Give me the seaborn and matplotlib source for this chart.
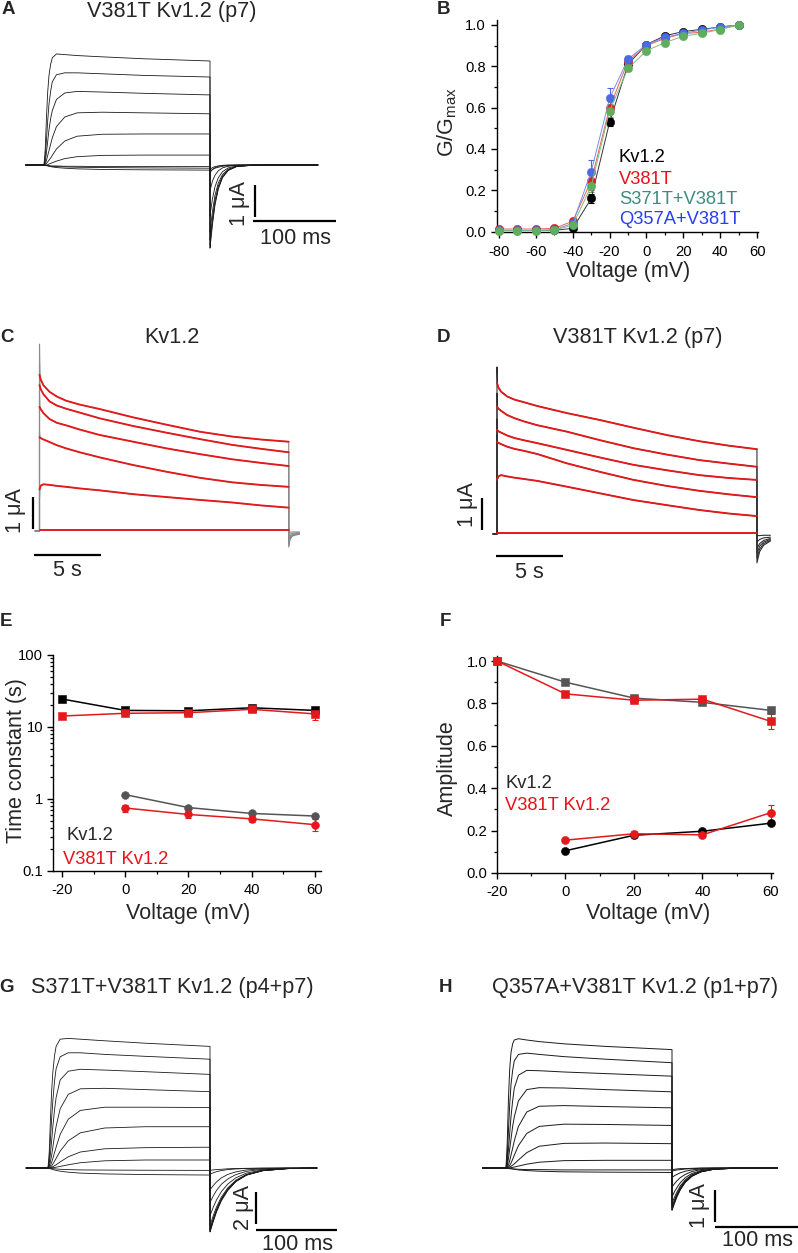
import numpy as np
import pandas as pd
import matplotlib
matplotlib.use("Agg")
import matplotlib.pyplot as plt
import seaborn as sns
from matplotlib.ticker import MultipleLocator, FixedLocator, FixedFormatter, LogLocator, NullFormatter

# ======================= DATA =======================
# --- B: G/Gmax vs voltage ---
B_voltage = [-80, -70, -60, -50, -40, -30, -20, -10, 0, 10, 20, 30, 40, 50]
B_kv12 = [0.005, 0.005, 0.005, 0.006, 0.015, 0.16, 0.53, 0.81, 0.905, 0.948, 0.968, 0.979, 0.99, 1.0]
B_kv12_err = [0.003, 0.003, 0.003, 0.003, 0.005, 0.02, 0.02, 0.01, 0.01, 0.005, 0.005, 0.005, 0.004, 0.0]
B_v381t = [0.012, 0.012, 0.012, 0.015, 0.05, 0.245, 0.60, 0.825, 0.90, 0.935, 0.958, 0.965, 0.98, 1.0]
B_v381t_err = [0.004, 0.004, 0.004, 0.004, 0.01, 0.045, 0.03, 0.015, 0.01, 0.008, 0.006, 0.005, 0.004, 0.0]
B_s371t = [0.004, 0.004, 0.004, 0.008, 0.03, 0.22, 0.585, 0.79, 0.875, 0.915, 0.945, 0.96, 0.978, 1.0]
B_s371t_err = [0.003, 0.003, 0.003, 0.003, 0.008, 0.03, 0.03, 0.015, 0.01, 0.008, 0.006, 0.005, 0.004, 0.0]
B_q357a = [0.005, 0.005, 0.005, 0.008, 0.04, 0.29, 0.645, 0.835, 0.905, 0.94, 0.96, 0.975, 0.99, 1.0]
B_q357a_err = [0.003, 0.003, 0.003, 0.003, 0.01, 0.055, 0.05, 0.015, 0.01, 0.008, 0.006, 0.005, 0.004, 0.0]
B_series_names = ["Kv1.2", "V381T", "S371T+V381T", "Q357A+V381T"]

# --- E: time constants ---
E_voltage_slow = [-20, 0, 20, 40, 60]
E_voltage_fast = [0, 20, 40, 60]
E_tau_slow_kv = [24.5, 17.0, 16.8, 18.5, 17.0]
E_tau_slow_kv_err = [2.0, 1.2, 1.2, 1.5, 1.8]
E_tau_slow_v = [14.2, 15.5, 15.8, 17.6, 15.2]
E_tau_slow_v_err = [1.0, 1.2, 1.2, 1.5, 2.8]
E_tau_fast_kv = [1.15, 0.76, 0.63, 0.58]
E_tau_fast_kv_err = [0.06, 0.04, 0.04, 0.04]
E_tau_fast_v = [0.75, 0.61, 0.53, 0.44]
E_tau_fast_v_err = [0.08, 0.06, 0.05, 0.08]

# --- F: amplitudes ---
F_voltage_slow = [-20, 0, 20, 40, 60]
F_voltage_fast = [0, 20, 40, 60]
F_amp_slow_kv = [1.0, 0.9, 0.825, 0.805, 0.767]
F_amp_slow_kv_err = [0.0, 0.008, 0.008, 0.008, 0.01]
F_amp_slow_v = [1.0, 0.845, 0.815, 0.82, 0.715]
F_amp_slow_v_err = [0.0, 0.01, 0.012, 0.012, 0.035]
F_amp_fast_kv = [0.105, 0.178, 0.197, 0.235]
F_amp_fast_kv_err = [0.008, 0.008, 0.008, 0.01]
F_amp_fast_v = [0.155, 0.185, 0.18, 0.285]
F_amp_fast_v_err = [0.01, 0.012, 0.012, 0.035]

# --- A / G / H: 200 ms voltage-step current families (uA) ---
STEP_MS = 200
A_on_t = [0, 1.5, 3, 4.5, 6, 8, 10, 15, 25, 40, 70, 120, 200]
A_on_I = [
    [0, 0.5, 1.5, 2.3, 2.8, 3.15, 3.35, 3.47, 3.45, 3.42, 3.38, 3.32, 3.25],
    [0, 0.25, 0.8, 1.4, 1.9, 2.3, 2.6, 2.82, 2.88, 2.88, 2.85, 2.8, 2.75],
    [0, 0.1, 0.4, 0.75, 1.1, 1.45, 1.7, 2.05, 2.25, 2.3, 2.28, 2.24, 2.19],
    [0, 0.04, 0.15, 0.3, 0.45, 0.65, 0.85, 1.2, 1.5, 1.63, 1.65, 1.63, 1.6],
    [0, 0.01, 0.05, 0.1, 0.15, 0.22, 0.3, 0.5, 0.75, 0.9, 0.96, 0.97, 0.97],
    [0, 0.0, 0.0, 0.01, 0.03, 0.05, 0.07, 0.12, 0.2, 0.26, 0.3, 0.31, 0.31],
    [0, -0.01, -0.01, -0.02, -0.02, -0.03, -0.03, -0.03, -0.04, -0.04, -0.05, -0.05, -0.05],
    [0, -0.01, -0.02, -0.02, -0.03, -0.04, -0.04, -0.05, -0.06, -0.07, -0.08, -0.09, -0.1],
    [0, -0.01, -0.02, -0.03, -0.04, -0.05, -0.06, -0.08, -0.1, -0.12, -0.14, -0.15, -0.16],
]
A_tail_t = [0, 1, 3, 6, 10, 15, 22, 32, 50, 80, 130]
A_tail_I = [
    [-2.6, -2.35, -1.85, -1.25, -0.75, -0.4, -0.17, -0.05, -0.01, 0, 0],
    [-2.5, -2.25, -1.78, -1.2, -0.72, -0.38, -0.16, -0.05, -0.01, 0, 0],
    [-2.35, -2.1, -1.65, -1.1, -0.66, -0.35, -0.15, -0.04, -0.01, 0, 0],
    [-2.1, -1.85, -1.45, -0.95, -0.56, -0.3, -0.13, -0.04, -0.01, 0, 0],
    [-1.6, -1.4, -1.05, -0.68, -0.4, -0.21, -0.09, -0.03, 0, 0, 0],
    [-0.8, -0.7, -0.5, -0.32, -0.18, -0.09, -0.04, -0.01, 0, 0, 0],
    [-0.25, -0.2, -0.14, -0.08, -0.04, -0.02, -0.01, 0, 0, 0, 0],
    [-0.15, -0.12, -0.08, -0.05, -0.03, -0.01, 0, 0, 0, 0, 0],
    [-0.2, -0.18, -0.14, -0.1, -0.07, -0.04, -0.02, -0.01, 0, 0, 0],
]

G_on_t = [0, 1.5, 3, 4.5, 6, 8, 10, 15, 25, 40, 70, 120, 200]
G_on_I = [
    [0, 1.0, 3.0, 4.8, 6.0, 7.0, 7.6, 8.05, 8.1, 8.05, 7.95, 7.8, 7.6],
    [0, 0.5, 1.8, 3.1, 4.2, 5.4, 6.2, 6.95, 7.2, 7.2, 7.1, 6.98, 6.8],
    [0, 0.25, 0.9, 1.7, 2.6, 3.6, 4.4, 5.5, 6.05, 6.17, 6.12, 6.02, 5.85],
    [0, 0.1, 0.4, 0.8, 1.3, 2.0, 2.6, 3.7, 4.6, 4.95, 4.98, 4.9, 4.77],
    [0, 0.03, 0.15, 0.35, 0.6, 0.95, 1.3, 2.1, 3.05, 3.6, 3.8, 3.8, 3.78],
    [0, 0.01, 0.05, 0.13, 0.25, 0.42, 0.6, 1.05, 1.7, 2.2, 2.5, 2.58, 2.58],
    [0, 0.0, 0.02, 0.04, 0.08, 0.14, 0.2, 0.38, 0.7, 1.0, 1.2, 1.27, 1.3],
    [0, 0.0, 0.0, 0.01, 0.02, 0.03, 0.05, 0.1, 0.2, 0.33, 0.45, 0.5, 0.5],
    [0, -0.01, -0.02, -0.03, -0.04, -0.05, -0.06, -0.08, -0.1, -0.12, -0.13, -0.14, -0.15],
    [0, -0.02, -0.05, -0.07, -0.1, -0.12, -0.15, -0.2, -0.26, -0.32, -0.37, -0.41, -0.44],
]
G_tail_t = [0, 1, 4, 8, 14, 22, 32, 45, 65, 95, 132]
G_tail_I = [
    [-4.0, -3.85, -3.35, -2.75, -2.05, -1.4, -0.85, -0.45, -0.17, -0.04, 0],
    [-3.95, -3.8, -3.3, -2.7, -2.0, -1.37, -0.83, -0.44, -0.17, -0.04, 0],
    [-3.9, -3.75, -3.25, -2.66, -1.98, -1.35, -0.82, -0.43, -0.16, -0.04, 0],
    [-3.8, -3.65, -3.15, -2.58, -1.92, -1.3, -0.8, -0.42, -0.16, -0.04, 0],
    [-3.6, -3.45, -2.98, -2.44, -1.82, -1.24, -0.76, -0.4, -0.15, -0.04, 0],
    [-3.0, -2.85, -2.45, -2.0, -1.48, -1.0, -0.61, -0.32, -0.12, -0.03, 0],
    [-2.2, -2.05, -1.75, -1.4, -1.02, -0.68, -0.41, -0.21, -0.08, -0.02, 0],
    [-1.4, -1.3, -1.1, -0.87, -0.62, -0.4, -0.24, -0.12, -0.05, -0.01, 0],
    [-0.4, -0.37, -0.3, -0.23, -0.16, -0.1, -0.06, -0.03, -0.01, 0, 0],
    [-0.15, -0.14, -0.12, -0.1, -0.08, -0.05, -0.03, -0.02, -0.01, 0, 0],
]

H_on_t = [0, 1.5, 3, 4.5, 6, 8, 10, 15, 25, 40, 70, 120, 200]
H_on_I = [
    [0, 0.8, 2.2, 3.1, 3.6, 3.88, 4.0, 4.04, 4.0, 3.95, 3.88, 3.8, 3.7],
    [0, 0.35, 1.2, 2.0, 2.6, 3.05, 3.35, 3.55, 3.59, 3.55, 3.48, 3.4, 3.29],
    [0, 0.15, 0.6, 1.1, 1.6, 2.1, 2.5, 2.9, 3.05, 3.04, 3.0, 2.95, 2.87],
    [0, 0.07, 0.3, 0.6, 0.9, 1.3, 1.6, 2.1, 2.45, 2.51, 2.5, 2.45, 2.38],
    [0, 0.02, 0.1, 0.23, 0.4, 0.62, 0.85, 1.3, 1.75, 1.93, 1.95, 1.92, 1.88],
    [0, 0.0, 0.03, 0.08, 0.15, 0.27, 0.4, 0.7, 1.08, 1.3, 1.37, 1.36, 1.33],
    [0, 0.0, 0.01, 0.03, 0.05, 0.09, 0.13, 0.25, 0.48, 0.68, 0.77, 0.78, 0.76],
    [0, 0.0, 0.0, 0.0, 0.01, 0.02, 0.03, 0.06, 0.12, 0.18, 0.23, 0.24, 0.24],
    [0, -0.01, -0.01, -0.02, -0.02, -0.03, -0.03, -0.04, -0.05, -0.05, -0.06, -0.06, -0.06],
    [0, -0.01, -0.01, -0.02, -0.02, -0.03, -0.04, -0.06, -0.08, -0.1, -0.12, -0.13, -0.14],
]
H_tail_t = [0, 1, 3, 6, 10, 16, 24, 35, 50, 80, 127]
H_tail_I = [
    [-1.32, -1.25, -1.1, -0.9, -0.68, -0.45, -0.26, -0.12, -0.04, 0, 0],
    [-1.3, -1.23, -1.08, -0.88, -0.67, -0.44, -0.25, -0.12, -0.04, 0, 0],
    [-1.25, -1.18, -1.04, -0.85, -0.64, -0.42, -0.24, -0.11, -0.04, 0, 0],
    [-1.2, -1.13, -1.0, -0.82, -0.61, -0.4, -0.23, -0.11, -0.04, 0, 0],
    [-1.1, -1.04, -0.91, -0.75, -0.56, -0.37, -0.21, -0.1, -0.03, 0, 0],
    [-0.9, -0.85, -0.74, -0.61, -0.46, -0.3, -0.17, -0.08, -0.03, 0, 0],
    [-0.6, -0.56, -0.49, -0.4, -0.3, -0.2, -0.11, -0.05, -0.02, 0, 0],
    [-0.3, -0.28, -0.24, -0.2, -0.15, -0.1, -0.06, -0.03, -0.01, 0, 0],
    [-0.1, -0.09, -0.08, -0.06, -0.05, -0.03, -0.02, -0.01, 0, 0, 0],
    [-0.05, -0.05, -0.04, -0.03, -0.02, -0.02, -0.01, 0, 0, 0, 0],
]

# --- C / D: long pulses (s, uA), red = fits, grey = raw onset/tail ---
C_fit_t = [0, 0.1, 0.3, 0.75, 1.3, 2.0, 3.0, 4.5, 7.0, 9.5, 12.0, 14.4, 16.5, 18.6]
C_fit_I = [
    [4.88, 4.72, 4.55, 4.35, 4.2, 4.07, 3.95, 3.81, 3.55, 3.32, 3.10, 2.95, 2.86, 2.79],
    [4.56, 4.42, 4.27, 4.05, 3.92, 3.82, 3.7, 3.52, 3.28, 3.07, 2.87, 2.69, 2.57, 2.46],
    [3.88, 3.8, 3.68, 3.5, 3.38, 3.3, 3.17, 3.0, 2.79, 2.58, 2.4, 2.24, 2.13, 2.03],
    [2.93, 2.9, 2.86, 2.78, 2.68, 2.58, 2.46, 2.3, 2.06, 1.85, 1.66, 1.52, 1.44, 1.38],
    [1.30, 1.42, 1.46, 1.44, 1.41, 1.38, 1.33, 1.27, 1.15, 1.06, 0.97, 0.89, 0.8, 0.73],
    [0.03, 0.03, 0.03, 0.03, 0.03, 0.03, 0.03, 0.03, 0.03, 0.03, 0.03, 0.03, 0.03, 0.03],
]
C_raw_peak = [5.84, 5.2, 4.3, 3.1, 1.0, 0.05]
C_tail_t = [0, 0.1, 0.3, 0.8]
C_tail_I = [
    [-0.5, -0.25, -0.15, -0.1],
    [-0.45, -0.22, -0.13, -0.09],
    [-0.4, -0.2, -0.12, -0.08],
    [-0.32, -0.16, -0.1, -0.07],
    [-0.2, -0.1, -0.07, -0.05],
    [-0.05, -0.04, -0.03, -0.03],
]

D_fit_t = [0, 0.1, 0.3, 0.75, 1.3, 2.0, 3.0, 5.2, 7.7, 10.2, 12.7, 15.1, 17.3, 19.4]
D_fit_I = [
    [4.71, 4.58, 4.45, 4.3, 4.2, 4.12, 4.0, 3.78, 3.56, 3.32, 3.09, 2.9, 2.76, 2.65],
    [3.98, 3.92, 3.85, 3.72, 3.62, 3.52, 3.4, 3.2, 2.93, 2.68, 2.48, 2.31, 2.2, 2.1],
    [3.25, 3.21, 3.17, 3.08, 3.0, 2.93, 2.84, 2.63, 2.39, 2.16, 1.99, 1.84, 1.75, 1.69],
    [2.88, 2.85, 2.81, 2.73, 2.66, 2.6, 2.5, 2.21, 1.94, 1.69, 1.5, 1.35, 1.24, 1.15],
    [1.70, 1.8, 1.84, 1.8, 1.76, 1.72, 1.66, 1.48, 1.27, 1.06, 0.9, 0.75, 0.64, 0.56],
    [0.03, 0.03, 0.03, 0.03, 0.03, 0.03, 0.03, 0.03, 0.03, 0.03, 0.03, 0.03, 0.03, 0.03],
]
D_raw_peak = [5.22, 4.4, 3.6, 3.1, 1.5, 0.05]
D_tail_t = [0, 0.2, 0.5, 1.0]
D_tail_I = [
    [-0.9, -0.55, -0.35, -0.22],
    [-0.75, -0.47, -0.3, -0.2],
    [-0.6, -0.38, -0.25, -0.17],
    [-0.45, -0.3, -0.2, -0.14],
    [-0.25, -0.17, -0.12, -0.1],
    [-0.05, -0.05, -0.04, -0.04],
]

# ======================= STYLE =======================
sns.set_style("ticks")
plt.rcParams["font.family"] = ["Liberation Sans", "DejaVu Sans"]
plt.rcParams["mathtext.default"] = "regular"
plt.rcParams["axes.unicode_minus"] = False

RED = "#e3191c"
W, H = 798, 1253
fig = plt.figure(figsize=(W / 100, H / 100), dpi=100)
fig.patch.set_facecolor("white")

TICK_FS = 10.6
LAB_FS = 15.5
LEG_FS = 13.2
TITLE_FS = 15.6
PANEL_FS = 13.5


def px_axes(x0, y0, x1, y1):
    ax = fig.add_axes([x0 / W, 1 - y1 / H, (x1 - x0) / W, (y1 - y0) / H])
    ax.patch.set_alpha(0)
    return ax


def ftext(x, y, s, **kw):
    kw.setdefault("ha", "center")
    kw.setdefault("va", "center")
    fig.text(x / W, 1 - y / H, s, **kw)


def trace_axes(box, cal):
    x0, y0, x1, y1 = box
    t0px, pxt, base, pxi = cal
    ax = px_axes(x0, y0, x1, y1)
    ax.set_xlim((x0 - t0px) / pxt, (x1 - t0px) / pxt)
    ax.set_ylim((base - y1) / pxi, (base - y0) / pxi)
    ax.axis("off")
    return ax


def scalebar(ax, cal, xv, yv0, yv1, xh0, xh1, yh):
    t0px, pxt, base, pxi = cal
    kw = dict(color="black", lw=1.6, clip_on=False, solid_capstyle="butt")
    ax.plot([(xv - t0px) / pxt] * 2, [(base - yv0) / pxi, (base - yv1) / pxi], **kw)
    ax.plot([(xh0 - t0px) / pxt, (xh1 - t0px) / pxt], [(base - yh) / pxi] * 2, **kw)


def step_panel(box, cal, pre_t, on_t, on_I, tail_t, tail_I, color, lw):
    ax = trace_axes(box, cal)
    rows = []
    for k in range(len(on_I)):
        t = [pre_t] + list(on_t) + [STEP_MS + s for s in tail_t]
        i = [0.0] + list(on_I[k]) + list(tail_I[k])
        rows.append(pd.DataFrame({"t": t, "I": i, "sweep": k}))
    df = pd.concat(rows, ignore_index=True)
    sns.lineplot(data=df, x="t", y="I", units="sweep", estimator=None, sort=False,
                 color=color, lw=lw, ax=ax, legend=False)
    return ax


def long_panel(box, cal, fit_t, fit_I, raw_peak, tail_t, tail_I, raw_color, pre_t):
    ax = trace_axes(box, cal)
    end = fit_t[-1]
    raw_rows, fit_rows = [], []
    for k in range(len(fit_I)):
        t = [pre_t, 0, 0, 0.03] + list(fit_t[1:]) + [end + s for s in tail_t]
        i = [0, 0, raw_peak[k], fit_I[k][0]] + list(fit_I[k][1:]) + list(tail_I[k])
        raw_rows.append(pd.DataFrame({"t": t, "I": i, "sweep": k}))
        fit_rows.append(pd.DataFrame({"t": fit_t, "I": fit_I[k], "sweep": k}))
    sns.lineplot(data=pd.concat(raw_rows, ignore_index=True), x="t", y="I", units="sweep",
                 estimator=None, sort=False, color=raw_color, lw=0.8, ax=ax, legend=False)
    sns.lineplot(data=pd.concat(fit_rows, ignore_index=True), x="t", y="I", units="sweep",
                 estimator=None, sort=False, color=RED, lw=1.35, ax=ax, legend=False)
    return ax


def style_axes(ax):
    sns.despine(ax=ax)
    for s in ["left", "bottom"]:
        ax.spines[s].set_linewidth(1.0)
        ax.spines[s].set_color("black")
    ax.tick_params(which="major", direction="out", length=4, width=1.0, labelsize=TICK_FS,
                   pad=3, colors="black")
    ax.tick_params(which="minor", direction="out", length=2.5, width=0.9, colors="black")


def series(ax, x, y, err, color, lcolor, marker, ms, lw):
    ax.errorbar(x, y, yerr=err, fmt="none", ecolor=color, elinewidth=0.8, capsize=2,
                capthick=0.8, clip_on=False, zorder=2)
    sns.lineplot(x=x, y=y, color=lcolor, lw=lw, marker=marker, markersize=ms,
                 markerfacecolor=color, markeredgecolor=color, markeredgewidth=0.4,
                 estimator=None, sort=False, ax=ax, clip_on=False, zorder=3)


# ======================= PANEL A =======================
calA = (44, 0.83, 165, 32)
axA = step_panel((15, 35, 350, 255), calA, -22, A_on_t, A_on_I, A_tail_t, A_tail_I, "#1a1a1a", 0.6)
scalebar(axA, calA, 255, 185, 217, 253, 336, 221)
ftext(240, 204, "1 μA", fontsize=TITLE_FS, rotation=90)
ftext(295, 238, "100 ms", fontsize=TITLE_FS)

# ======================= PANEL B =======================
axB = px_axes(497, 20, 758, 232)
B_colors = ["#000000", "#e02020", "#5fae5f", "#4a6ae6"]
B_lcolors = ["#333333", "#f05a5a", "#7cc07c", "#7090f0"]
B_vals = [B_kv12, B_v381t, B_q357a, B_s371t]
B_errs = [B_kv12_err, B_v381t_err, B_q357a_err, B_s371t_err]
B_order_colors = [B_colors[0], B_colors[1], B_colors[3], B_colors[2]]
B_order_lcolors = [B_lcolors[0], B_lcolors[1], B_lcolors[3], B_lcolors[2]]
for vals, errs, c, lc in zip(B_vals, B_errs, B_order_colors, B_order_lcolors):
    series(axB, B_voltage, vals, errs, c, lc, "o", 6.0, 0.7)
axB.set_xlim(-81.1, 60.5)
axB.set_ylim(-0.0024, 1.024)
axB.xaxis.set_major_locator(FixedLocator([-80, -60, -40, -20, 0, 20, 40, 60]))
axB.xaxis.set_minor_locator(MultipleLocator(10))
axB.yaxis.set_major_locator(FixedLocator([0.0, 0.2, 0.4, 0.6, 0.8, 1.0]))
axB.yaxis.set_major_formatter(FixedFormatter(["0.0", "0.2", "0.4", "0.6", "0.8", "1.0"]))
axB.yaxis.set_minor_locator(MultipleLocator(0.1))
axB.set_xlabel("")
axB.set_ylabel("")
style_axes(axB)
axB.tick_params(axis="x", pad=5)
axB.tick_params(axis="y", pad=4)
ftext(628, 272, "Voltage (mV)", fontsize=LAB_FS)
ftext(447, 122, "G/G$_{max}$", fontsize=LAB_FS, rotation=90)
B_text_colors = ["#000000", "#e8121a", "#3c8c80", "#2a3ff0"]
for name, c, yy in zip(B_series_names, B_text_colors, [157, 180, 200, 219]):
    ftext(619, yy, name, fontsize=LEG_FS, color=c, ha="left")

# ======================= PANEL C =======================
calC = (39.5, 13.4, 531, 32)
axC = long_panel((0, 330, 330, 585), calC, C_fit_t, C_fit_I, C_raw_peak, C_tail_t, C_tail_I,
                 "#8a8a8a", -0.33)
scalebar(axC, calC, 32.5, 497, 529, 34, 101, 555)
ftext(15, 511, "1 μA", fontsize=TITLE_FS, rotation=90)
ftext(67, 570, "5 s", fontsize=TITLE_FS)

# ======================= PANEL D =======================
calD = (497, 13.4, 534, 32)
axD = long_panel((440, 330, 798, 585), calD, D_fit_t, D_fit_I, D_raw_peak, D_tail_t, D_tail_I,
                 "#303030", -0.3)
scalebar(axD, calD, 482, 498, 530, 496, 563, 556)
ftext(468, 505, "1 μA", fontsize=TITLE_FS, rotation=90)
ftext(529, 572, "5 s", fontsize=TITLE_FS)

# ======================= PANEL E =======================
axE = px_axes(53, 655, 321, 871)
axE.set_yscale("log")
series(axE, E_voltage_slow, E_tau_slow_kv, E_tau_slow_kv_err, "#000000", "#000000", "s", 5.2, 1.1)
series(axE, E_voltage_slow, E_tau_slow_v, E_tau_slow_v_err, RED, RED, "s", 5.2, 1.1)
series(axE, E_voltage_fast, E_tau_fast_kv, E_tau_fast_kv_err, "#555555", "#555555", "o", 5.6, 1.1)
series(axE, E_voltage_fast, E_tau_fast_v, E_tau_fast_v_err, RED, RED, "o", 5.6, 1.1)
axE.set_xlim(-22.8, 61.9)
axE.set_ylim(0.1, 100)
axE.xaxis.set_major_locator(FixedLocator([-20, 0, 20, 40, 60]))
axE.xaxis.set_minor_locator(MultipleLocator(10))
axE.yaxis.set_major_locator(FixedLocator([0.1, 1, 10, 100]))
axE.yaxis.set_major_formatter(FixedFormatter(["0.1", "1", "10", "100"]))
axE.yaxis.set_minor_locator(LogLocator(base=10, subs=np.arange(2, 10)))
axE.yaxis.set_minor_formatter(NullFormatter())
axE.set_xlabel("")
axE.set_ylabel("")
style_axes(axE)
axE.tick_params(axis="x", pad=5)
ftext(188, 913, "Voltage (mV)", fontsize=LAB_FS)
ftext(17, 761, "Time constant (s)", fontsize=LAB_FS, rotation=90)
ftext(66, 836, "Kv1.2", fontsize=LEG_FS, ha="left")
ftext(63, 859, "V381T Kv1.2", fontsize=LEG_FS, ha="left", color="#e8121a")

# ======================= PANEL F =======================
axF = px_axes(497, 656, 773, 873)
series(axF, F_voltage_slow, F_amp_slow_kv, F_amp_slow_kv_err, "#555555", "#555555", "s", 5.6, 1.1)
series(axF, F_voltage_slow, F_amp_slow_v, F_amp_slow_v_err, RED, RED, "s", 5.6, 1.1)
series(axF, F_voltage_fast, F_amp_fast_kv, F_amp_fast_kv_err, "#000000", "#000000", "o", 5.8, 1.1)
series(axF, F_voltage_fast, F_amp_fast_v, F_amp_fast_v_err, RED, RED, "o", 5.8, 1.1)
axF.set_xlim(-20, 60.6)
axF.set_ylim(0, 1.0236)
axF.xaxis.set_major_locator(FixedLocator([-20, 0, 20, 40, 60]))
axF.xaxis.set_minor_locator(MultipleLocator(10))
axF.yaxis.set_major_locator(FixedLocator([0.0, 0.2, 0.4, 0.6, 0.8, 1.0]))
axF.yaxis.set_major_formatter(FixedFormatter(["0.0", "0.2", "0.4", "0.6", "0.8", "1.0"]))
axF.yaxis.set_minor_locator(MultipleLocator(0.1))
axF.set_xlabel("")
axF.set_ylabel("")
style_axes(axF)
axF.tick_params(axis="x", pad=5)
ftext(648, 913, "Voltage (mV)", fontsize=LAB_FS)
ftext(447, 768, "Amplitude", fontsize=LAB_FS, rotation=90)
ftext(505, 784, "Kv1.2", fontsize=LEG_FS, ha="left")
ftext(505, 806, "V381T Kv1.2", fontsize=LEG_FS, ha="left", color="#e8121a")

# ======================= PANEL G =======================
calG = (48, 0.81, 1168, 16)
axG = step_panel((15, 1020, 350, 1253), calG, -27, G_on_t, G_on_I, G_tail_t, G_tail_I, "#1a1a1a", 0.6)
scalebar(axG, calG, 256, 1192, 1224, 256, 337, 1230)
ftext(243, 1208, "2 μA", fontsize=TITLE_FS, rotation=90)
ftext(297, 1244, "100 ms", fontsize=TITLE_FS)

# ======================= PANEL H =======================
calH = (506, 0.83, 1168, 32)
axH = step_panel((470, 1020, 798, 1253), calH, -28, H_on_t, H_on_I, H_tail_t, H_tail_I, "#1a1a1a", 0.7)
scalebar(axH, calH, 715, 1190, 1222, 715, 798, 1227)
ftext(699, 1206, "1 μA", fontsize=TITLE_FS, rotation=90)
ftext(757, 1241, "100 ms", fontsize=TITLE_FS)

# ======================= TITLES / PANEL LETTERS =======================
ftext(172, 11, "V381T Kv1.2 (p7)", fontsize=TITLE_FS)
ftext(172, 338, "Kv1.2", fontsize=TITLE_FS)
ftext(638, 338, "V381T Kv1.2 (p7)", fontsize=TITLE_FS)
ftext(172, 988, "S371T+V381T Kv1.2 (p4+p7)", fontsize=TITLE_FS)
ftext(635, 988, "Q357A+V381T Kv1.2 (p1+p7)", fontsize=TITLE_FS)
for lab, x, y in [("A", 8, 10), ("B", 443, 9), ("C", 7, 338), ("D", 443, 338),
                  ("E", 6, 622), ("F", 445, 622), ("G", 7, 988), ("H", 445, 988)]:
    ftext(x, y, lab, fontsize=PANEL_FS, fontweight="bold")

fig.savefig("out.png", dpi=100, facecolor="white")
